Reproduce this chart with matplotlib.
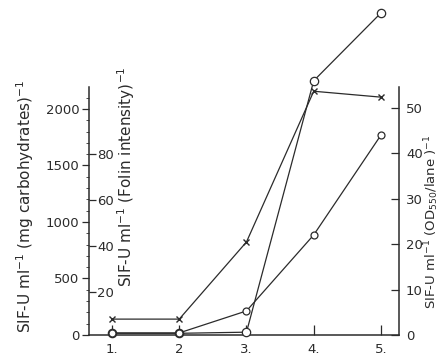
import matplotlib
matplotlib.use("Agg")
import matplotlib.pyplot as plt
from matplotlib.ticker import FixedLocator

# Fraction number along the purification scheme
steps = [1, 2, 3, 4, 5]
step_labels = ["1.", "2", "3.", "4.", "5."]

# SIF activity expressed against three different reference quantities
sif_carbohydrate = [15, 15, 25, 2250, 2850]      # SIF-U ml-1 (mg carbohydrates)-1
sif_folin = [2, 2, 11.6, 44.8, 88.4]             # SIF-U ml-1 (Folin intensity)-1
sif_od = [3.5, 3.5, 20.5, 53.7, 52.4]            # SIF-U ml-1 (OD550/lane)-1

ink = "#2b2b2b"
plt.rcParams["font.family"] = ["DejaVu Sans"]
plt.rcParams["font.size"] = 9.5
plt.rcParams["text.color"] = ink
plt.rcParams["xtick.color"] = ink
plt.rcParams["ytick.color"] = ink
plt.rcParams["xtick.labelcolor"] = ink
plt.rcParams["ytick.labelcolor"] = ink

W, H = 442, 360
fig = plt.figure(figsize=(W / 100, H / 100), dpi=100)
fig.patch.set_facecolor("white")

x0, x1 = 89, 399     # spine columns (px)
yb, yt = 335, 5      # axes bottom / top rows (px)
ax = fig.add_axes([x0 / W, (H - yb) / H, (x1 - x0) / W, (yb - yt) / H])
ax.patch.set_alpha(0)

ax.set_xlim(0.658, 5.268)

# left scale: carbohydrates
ax.set_ylim(0, 2920)
for s in ["top", "right"]:
    ax.spines[s].set_visible(False)
ax.spines["left"].set_bounds(0, 2195)
for s in ["left", "bottom"]:
    ax.spines[s].set_color(ink)
    ax.spines[s].set_linewidth(1.1)
ax.set_yticks([0, 500, 1000, 1500, 2000])
ax.yaxis.set_minor_locator(FixedLocator([v for v in range(100, 2200, 100) if v % 500]))
ax.tick_params(axis="y", which="major", direction="out", length=5, width=0.9, pad=2)
ax.tick_params(axis="y", which="minor", direction="out", length=2, width=0.6)
ax.set_xticks(steps)
ax.set_xticklabels(step_labels)
ax.tick_params(axis="x", direction="in", length=7, width=0.9, pad=6)

# inner scale on the same left spine: Folin intensity
axf = ax.twinx()
axf.set_ylim(1.09, 145.2)
for s in ["top", "left", "bottom", "right"]:
    axf.spines[s].set_visible(False)
axf.spines["right"].set_position(("axes", 0))
axf.set_yticks([20, 40, 60, 80])
axf.tick_params(axis="y", direction="out", length=5, width=0.9, pad=1)

# right scale: OD550 per lane
axr = ax.twinx()
axr.set_ylim(0, 72.7)
for s in ["top", "left", "bottom"]:
    axr.spines[s].set_visible(False)
axr.spines["right"].set_bounds(0, 54.6)
axr.spines["right"].set_color(ink)
axr.spines["right"].set_linewidth(1.1)
axr.set_yticks([0, 10, 20, 30, 40, 50])
axr.tick_params(axis="y", direction="in", length=6, width=0.9, pad=5)

line_kw = dict(color=ink, lw=0.9, clip_on=False, zorder=3)
ax.plot(steps, sif_carbohydrate, marker="o", ms=6, mfc="white", mec=ink, mew=0.9, **line_kw)
axf.plot(steps, sif_folin, marker="o", ms=5, mfc="white", mec=ink, mew=0.9, **line_kw)
axr.plot(steps, sif_od, marker="x", ms=4, mec=ink, mew=1.0, **line_kw)

lab = 11
fig.text(25 / W, 1 - 206 / H, r"SIF-U ml$^{-1}$ (mg carbohydrates)$^{-1}$",
         rotation=90, ha="center", va="center", fontsize=lab)
fig.text(126 / W, 1 - 177 / H, r"SIF-U ml$^{-1}$ (Folin intensity)$^{-1}$",
         rotation=90, ha="center", va="center", fontsize=lab)
fig.text(432 / W, 1 - 222 / H, r"SIF-U ml$^{-1}$ (OD$_{550}$/lane )$^{-1}$",
         rotation=90, ha="center", va="center", fontsize=9.5)

fig.savefig("out.png", dpi=100, facecolor="white")
